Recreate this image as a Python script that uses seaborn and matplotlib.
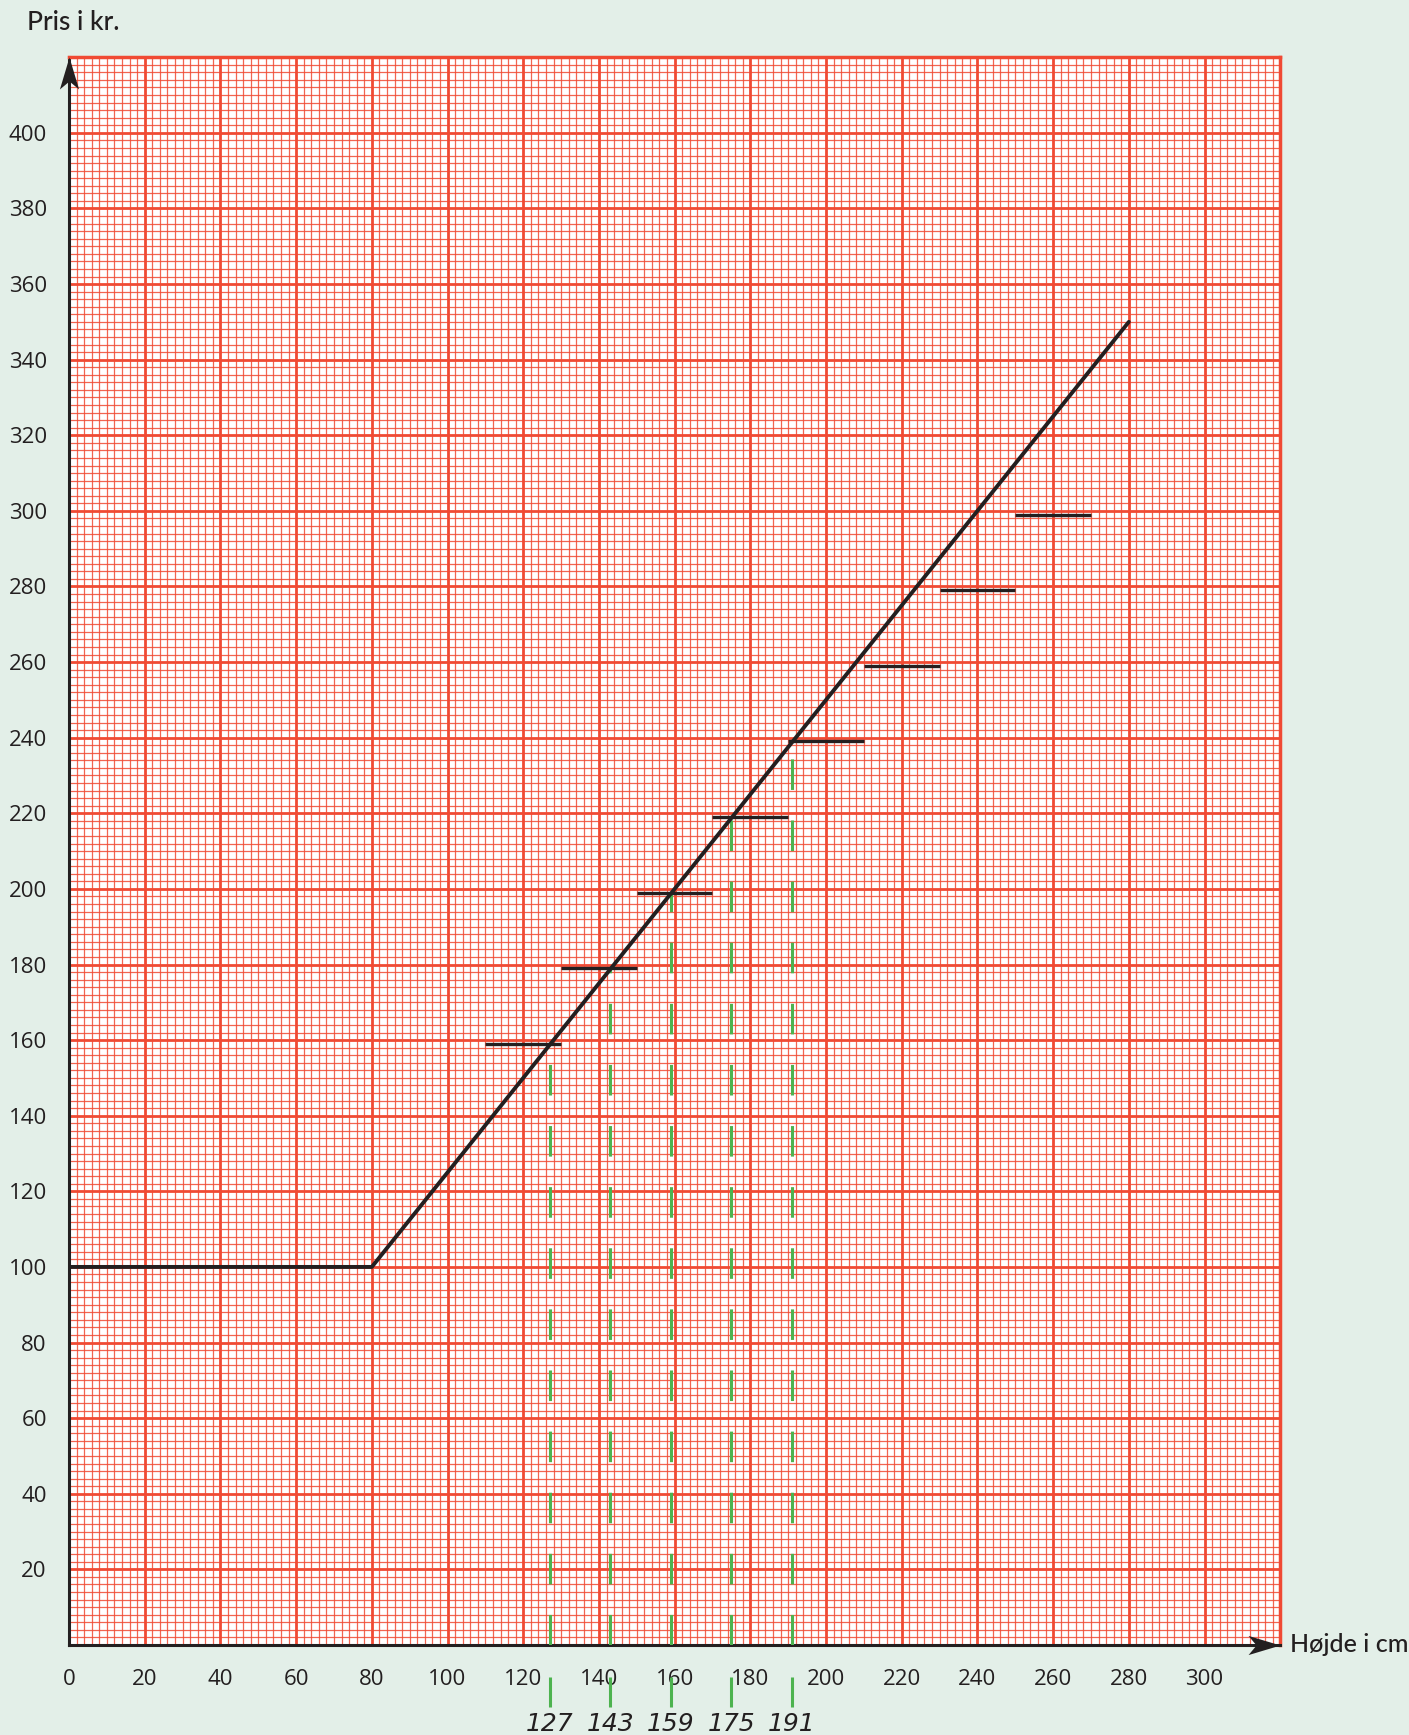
import matplotlib
matplotlib.use("Agg")
import matplotlib.pyplot as plt
import seaborn as sns
import pandas as pd
from matplotlib.path import Path
from matplotlib.ticker import MultipleLocator

# price curve (height in cm -> price in kr.)
curve_height = [0, 80, 280]
curve_price = [100, 100, 350]

# horizontal price steps
step_start = [110, 130, 150, 170, 190, 210, 230, 250]
step_end = [130, 150, 170, 190, 210, 230, 250, 270]
step_price = [159, 179, 199, 219, 239, 259, 279, 299]

# green marked heights and the price where they hit the curve
mark_height = [127, 143, 159, 175, 191]
mark_price = [159, 179, 199, 219, 239]
mark_labels = ["127", "143", "159", "175", "191"]

x_ticks = list(range(0, 301, 20))
y_ticks = list(range(0, 401, 20))
y_tick_labels = [""] + [str(v) for v in y_ticks[1:]]

BG = "#E3EFE8"
RED = "#F04A33"
INK = "#231F20"
GREEN = "#4DB34F"


def main():
    sns.set_theme(style="white")
    plt.rcParams["font.family"] = ["Open Sans", "DejaVu Sans"]

    fig = plt.figure(figsize=(14.09, 17.35), dpi=100, facecolor=BG)
    ax = fig.add_axes([0.049, 0.0519, 0.8596, 0.9151])
    ax.set_facecolor("white")

    # graph paper
    ax.set_xlim(0, 320)
    ax.set_ylim(0, 420)
    ax.set_xticks(x_ticks)
    ax.set_yticks(y_ticks)
    ax.set_yticklabels(y_tick_labels)
    ax.xaxis.set_minor_locator(MultipleLocator(2))
    ax.yaxis.set_minor_locator(MultipleLocator(2))
    ax.grid(which="minor", color=RED, lw=0.9, alpha=0.85)
    ax.grid(which="major", color=RED, lw=2.0)
    ax.set_axisbelow(True)
    ax.tick_params(which="minor", length=0)
    ax.tick_params(which="major", direction="out", length=11, width=1.2,
                   color="#555555", labelsize=16, labelcolor=INK, pad=5)
    ax.tick_params(axis="x", pad=6)

    for side in ("top", "right"):
        ax.spines[side].set_color(RED)
        ax.spines[side].set_linewidth(2.5)
    for side in ("bottom", "left"):
        ax.spines[side].set_color(INK)
        ax.spines[side].set_linewidth(2.2)

    # green dashed guides
    ax.vlines(mark_height, 0, mark_price, color=GREEN, lw=2.2,
              linestyles=(0, (10, 10)), zorder=3)

    # price steps
    ax.hlines(step_price, step_start, step_end, color=INK, lw=2.4, zorder=4)

    # price curve
    df = pd.DataFrame({"height": curve_height, "price": curve_price})
    sns.lineplot(data=df, x="height", y="price", color=INK, lw=2.8,
                 sort=False, ax=ax, zorder=5)
    ax.set_xlabel("")
    ax.set_ylabel("")

    # axis arrows
    up = Path([(0, 0), (0.3, -1), (0, -0.75), (-0.3, -1), (0, 0)],
              [Path.MOVETO, Path.LINETO, Path.LINETO, Path.LINETO, Path.CLOSEPOLY])
    right = Path([(0, 0), (-1, 0.3), (-0.75, 0), (-1, -0.3), (0, 0)],
                 [Path.MOVETO, Path.LINETO, Path.LINETO, Path.LINETO, Path.CLOSEPOLY])
    ax.plot([0], [420], marker=up, ms=46, color=INK, mew=0, clip_on=False, zorder=6)
    ax.plot([320], [0], marker=right, ms=46, color=INK, mew=0, clip_on=False, zorder=6)

    # green marks below the axis
    ax.vlines(mark_height, -16.5, -8.5, color=GREEN, lw=2.2, clip_on=False)
    for h, lab in zip(mark_height, mark_labels):
        ax.text(h, -20.8, lab, ha="center", va="center", fontsize=18,
                style="italic", color=INK, family="DejaVu Sans")

    # axis titles
    fig.text(0.019, 0.987, "Pris i kr.", ha="left", va="center",
             fontsize=19, color=INK, family="Lato", weight="medium")
    ax.text(322.5, 0, "Højde i cm", ha="left", va="center", fontsize=18,
            color=INK, clip_on=False, family="Lato", weight="medium")

    plt.savefig("out.png", dpi=100, facecolor=BG)


if __name__ == "__main__":
    main()
